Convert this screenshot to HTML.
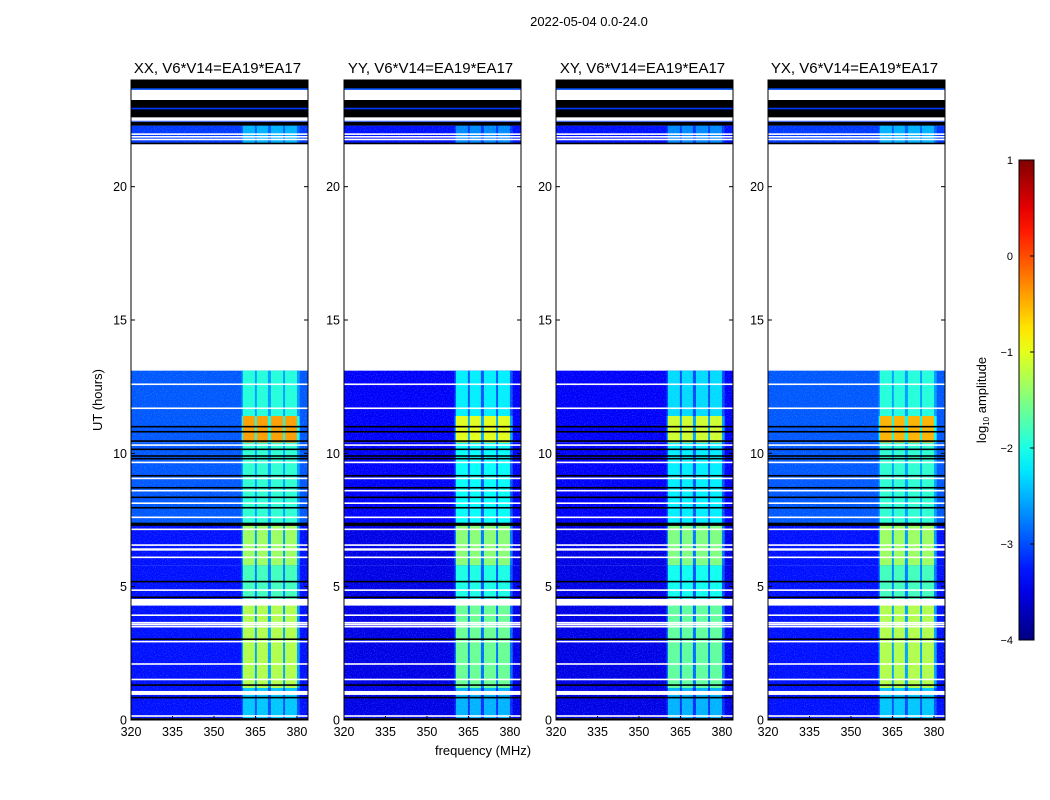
<!DOCTYPE html>
<html><head><meta charset="utf-8"><style>
html,body{margin:0;padding:0;background:#fff;}
svg{display:block;font-family:"Liberation Sans",sans-serif;}
</style></head><body>
<svg id="fig" width="1050" height="800" viewBox="0 0 1050 800" xmlns="http://www.w3.org/2000/svg">
<defs>
<filter id="speck" x="0" y="0" width="1" height="1">
<feTurbulence type="fractalNoise" baseFrequency="0.9" numOctaves="1" seed="3"/>
<feColorMatrix type="matrix" values="0 0 0 0 0.4  0 0 0 0 0.9  0 0 0 0 1  0 0 0 2.2 -1.1"/>
</filter>
<linearGradient id="jetgrad" x1="0" y1="1" x2="0" y2="0"></linearGradient>
</defs>
<text x="589" y="26" text-anchor="middle" font-size="13">2022-05-04 0.0-24.0</text>
<text x="483" y="755" text-anchor="middle" font-size="13">frequency (MHz)</text>
<text x="102" y="400" text-anchor="middle" font-size="13" transform="rotate(-90 102 400)">UT (hours)</text>
<g id="panels"></g>
<g id="cbar"></g>
</svg>
<script>
// ---- data ----
const pols = ["XX", "YY", "XY", "YX"];
const segStarts = [0.07, 1.2, 4.3, 5.8, 7.3, 10.4, 11.4];
const segEnds   = [1.2, 4.3, 5.8, 7.3, 10.4, 11.4, 13.1];
const bgLevels = [
  [-3.3,-3.3,-3.3,-3.3,-2.95,-2.95,-2.95],
  [-3.5,-3.5,-3.5,-3.5,-3.4,-3.4,-3.4],
  [-3.5,-3.5,-3.5,-3.5,-3.4,-3.4,-3.4],
  [-3.3,-3.3,-3.3,-3.3,-2.95,-2.95,-2.95]
];
const colLevels = [
  [-2.4,-1.25,-1.8,-1.35,-1.9,-0.4,-1.95],
  [-2.5,-1.6,-2.0,-1.45,-2.1,-1.0,-2.2],
  [-2.5,-1.65,-2.05,-1.5,-2.2,-1.1,-2.3],
  [-2.4,-1.25,-1.8,-1.35,-1.9,-0.5,-1.95]
];
const upperSeg = [21.63, 22.29];
const upperBg = [-3.1, -3.3, -3.3, -3.1];
const upperCol = [-2.5, -2.7, -2.7, -2.5];
const rfiChannels = [[360.5,364.8],[365.5,369.5],[370.6,375],[375.7,380]];
const whiteLines = [12.59,11.69,10.31,9.66,9.06,8.6,8.13,7.6,7.15,6.56,6.1,4.87,3.93,3.65,3.58,3.5,2.94,2.1,1.52,0.15,21.97,21.87,21.77,22.55,22.5];
const whiteBands = [[6.35,6.44],[4.29,4.54],[0.94,1.09],[23.25,23.6]];
const blackLines = [11.0,10.81,10.46,10.15,9.9,9.8,9.16,8.71,8.35,7.96,5.19,4.6,3.03,1.31,0.84,21.62];
const blackBands = [[7.28,7.4],[0,0.07],[23.68,24],[22.6,23.25],[22.29,22.43]];
const blueLines = [[23.66,-3.0],[22.93,-3.1],[22.47,-3.1]];
const xTicks = [320,335,350,365,380];
const yTicks = [0,5,10,15,20];
const cbTicks = [1,0,-1,-2,-3,-4];
const cbLabels = ["1","0","\u22121","\u22122","\u22123","\u22124"];

// ---- scales ----
const panelLefts = [131,344,556,768];
const PW = 177, TOP = 80, BOT = 720;
function yS(h){ return BOT - h*(BOT-TOP)/24; }
function xS(left,f){ return left + (f-320)*PW/64; }
function jet(v){
  let t = Math.max(0,Math.min(1,(v+4)/5));
  const c = x => Math.round(255*Math.max(0,Math.min(1,x)));
  const r = c(Math.min(4*t-1.5, -4*t+4.5));
  const g = c(Math.min(4*t-0.5, -4*t+3.5));
  const b = c(Math.min(4*t+0.5, -4*t+2.5));
  return `rgb(${r},${g},${b})`;
}
const NS = "http://www.w3.org/2000/svg";
function mk(tag, attrs, parent){
  const e = document.createElementNS(NS, tag);
  for (const k in attrs) e.setAttribute(k, attrs[k]);
  parent.appendChild(e); return e;
}
const panels = document.getElementById('panels');

pols.forEach((p, pi) => {
  const L = panelLefts[pi];
  const g = mk('g', {}, panels);
  
  
  const hm = mk('g', {}, g);
  
  
  function band(h0,h1,val,x0,x1,fill){
    const r = mk('rect', {x:x0, y:yS(h1), width:x1-x0, height:Math.max(0.8,yS(h0)-yS(h1)), fill: fill || jet(val)}, hm);
    
    
  }
  function segment(h0,h1,bg,col){
    band(h0,h1,bg,L,L+PW);
    band(h0,h1,(bg*0.65+col*0.35),xS(L,360),xS(L,381));
    rfiChannels.forEach(ch => band(h0,h1,col,xS(L,ch[0]),xS(L,ch[1])));
  }
  segStarts.forEach((s,i) => segment(s, segEnds[i], bgLevels[pi][i], colLevels[pi][i]));
  segment(upperSeg[0], upperSeg[1], upperBg[pi], upperCol[pi]);
  mk('rect', {x:L, y:yS(13.1), width:PW, height:yS(0)-yS(13.1), filter:'url(#speck)', opacity:0.35}, hm);
  mk('rect', {x:L, y:yS(22.29), width:PW, height:yS(21.63)-yS(22.29), filter:'url(#speck)', opacity:0.35}, hm);
  blackBands.forEach(b => band(b[0],b[1],0,L,L+PW,'#000'));
  blueLines.forEach(b => band(b[0]-0.03,b[0]+0.03,b[1],L,L+PW));
  whiteBands.forEach(b => band(b[0],b[1],0,L,L+PW,'#fff'));
  whiteLines.forEach(h => band(h-0.03,h+0.03,0,L,L+PW,'#fff'));
  blackLines.forEach(h => band(h-0.03,h+0.03,0,L,L+PW,'#000'));
  const fr = mk('rect', {x:L, y:TOP, width:PW, height:BOT-TOP, fill:'none', stroke:'#000', 'stroke-width':1}, g);
  
  
  const tt = mk('text', {x:L+PW/2-2, y:73, 'text-anchor':'middle', 'font-size':15}, g);
  tt.textContent = p + ", V6*V14=EA19*EA17";
  
  
  xTicks.forEach(f => {
    const x = xS(L,f);
    mk('line', {x1:x, x2:x, y1:BOT, y2:BOT-4, stroke:'#000'}, g);
    mk('line', {x1:x, x2:x, y1:TOP, y2:TOP+4, stroke:'#000'}, g);
    const t = mk('text', {x:x, y:BOT+16, 'text-anchor':'middle', 'font-size':12.5}, g);
    t.textContent = f;
    
    
  });
  yTicks.forEach(h => {
    const y = yS(h);
    mk('line', {x1:L, x2:L+4, y1:y, y2:y, stroke:'#000'}, g);
    mk('line', {x1:L+PW, x2:L+PW-4, y1:y, y2:y, stroke:'#000'}, g);
    const t = mk('text', {x:L-4, y:y+4.5, 'text-anchor':'end', 'font-size':12.5}, g);
    t.textContent = h;
    
    
  });
});

// colorbar
const cb = document.getElementById('cbar');
const CX = 1019, CW = 15, CT = 160, CB = 640;
const grad = document.getElementById('jetgrad');
for (let i = 0; i <= 20; i++){
  mk('stop', {offset:(i/20), 'stop-color': jet(-4 + 5*i/20)}, grad);
}
const cr = mk('rect', {x:CX, y:CT, width:CW, height:CB-CT, fill:'url(#jetgrad)', stroke:'#000', 'stroke-width':1}, cb);


cbTicks.forEach((v,i) => {
  const y = CB - (v+4)/5*(CB-CT);
  mk('line', {x1:CX+CW-4, x2:CX+CW, y1:y, y2:y, stroke:'#000'}, cb);
  const t = mk('text', {x:CX-6, y:y+4, 'text-anchor':'end', 'font-size':11}, cb);
  t.textContent = cbLabels[i];
  
  
});
const cl = mk('text', {x:986, y:400, 'text-anchor':'middle', 'font-size':13, transform:'rotate(-90 986 400)'}, cb);
cl.innerHTML = 'log<tspan font-size="8" dy="3">10</tspan><tspan dy="-3"> amplitude</tspan>';


</script>
</body></html>
